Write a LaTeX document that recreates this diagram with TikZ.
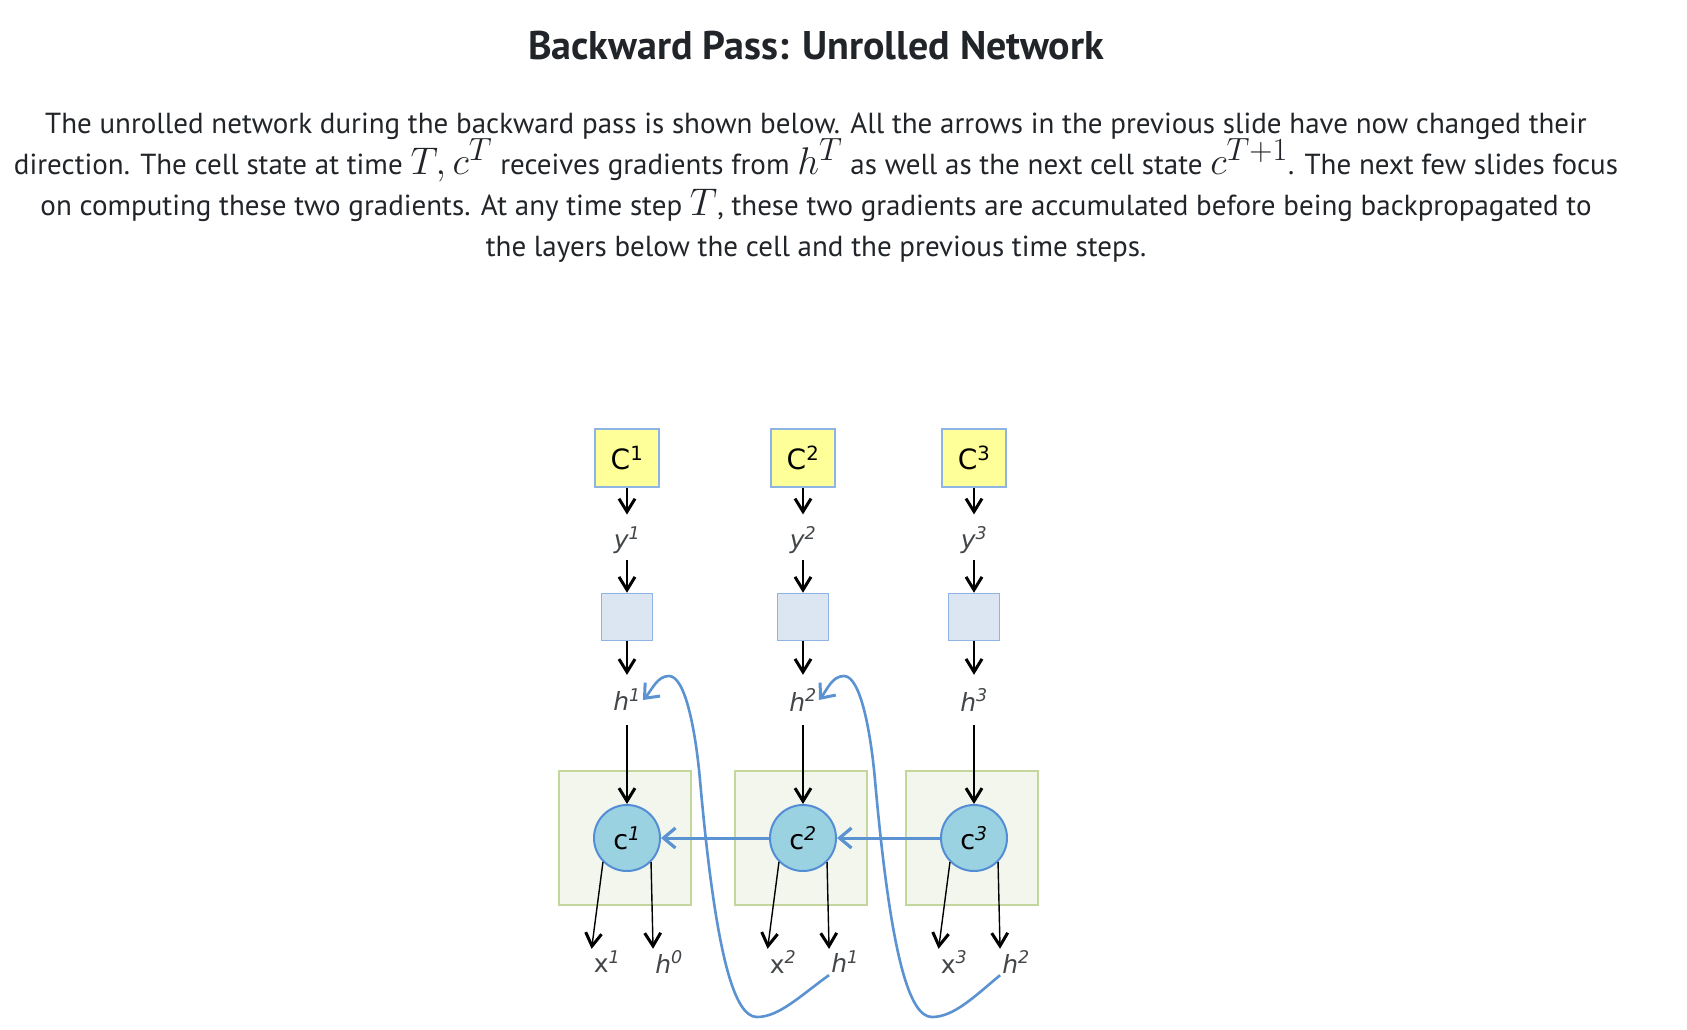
\documentclass[tikz,border=0pt]{standalone}
\usepackage{graphicx}
\usepackage{fontspec}
\setmainfont{PT Sans}
\newfontfamily\lblfont{DejaVu Sans}
\usetikzlibrary{positioning,calc,arrows.meta}
\definecolor{outfill}{RGB}{255,255,153}
\definecolor{boxedge}{RGB}{141,180,226}
\definecolor{layfill}{RGB}{220,230,242}
\definecolor{cellfill}{RGB}{243,246,236}
\definecolor{celledge}{RGB}{195,214,155}
\definecolor{statefill}{RGB}{155,210,226}
\definecolor{stateedge}{RGB}{83,141,213}
\definecolor{gradblue}{RGB}{91,146,210}
\definecolor{txt}{RGB}{33,37,41}
\newcommand{\mth}[1]{\scalebox{1.55}{\fontsize{24.88}{24.88}\selectfont$#1$}}
\newcommand{\introfont}{\fontsize{29}{41}\selectfont\lineskiplimit=-100pt\relax}
\tikzset{outbox/.style={draw=boxedge, fill=outfill, line width=1.5pt, minimum width=64pt, minimum height=58pt, inner sep=0pt, font=\lblfont\fontsize{28}{28}\selectfont}}
\tikzset{laybox/.style={draw=boxedge, fill=layfill, line width=1.5pt, minimum width=51pt, minimum height=47pt, inner sep=0pt}}
\tikzset{cellbox/.style={draw=celledge, fill=cellfill, line width=1.5pt, minimum width=132pt, minimum height=134pt, inner sep=0pt}}
\tikzset{state/.style={circle, draw=stateedge, fill=statefill, line width=2pt, minimum size=66pt, inner sep=0pt, font=\lblfont\fontsize{27}{27}\selectfont}}
\tikzset{lbl/.style={inner sep=2pt, text=txt!85, font=\lblfont\fontsize{25}{25}\selectfont}}
\tikzset{arr/.style={draw, line width=1.4pt, -{Straight Barb[length=13pt, width=16pt, line width=3pt]}}}
\tikzset{garr/.style={draw=gradblue, line width=3pt, -{Straight Barb[length=12pt, width=20pt, line width=3.2pt]}}}
\tikzset{gcurve/.style={draw=gradblue, line width=2.6pt, -{Straight Barb[length=12pt, width=20pt, line width=3pt]}}}

\begin{document}
\begin{tikzpicture}[x=1pt, y=1pt]
  \useasboundingbox[fill=white] (0,0) rectangle (1687,-1030);
  % heading and text
  \node[text=txt, font=\bfseries\fontsize{40}{40}\selectfont] (title) at (816,-46) {Backward Pass: Unrolled Network};
  \node[text=txt, align=center, font=\introfont] (intro) at (816,-188)
    {The unrolled network during the backward pass is shown below. All the arrows in the previous slide have now changed their\\
     direction. The cell state at time \mth{T, c^T} receives gradients from \mth{h^T} as well as the next cell state \mth{c^{T+1}}. The next few slides focus\\
     on computing these two gradients. At any time step \mth{T}, these two gradients are accumulated before being backpropagated to\\
     the layers below the cell and the previous time steps.};

  % column 1
  \node[outbox] (C1) at (627,-458) {C\textsuperscript{1}};
  \node[laybox, below=105pt of C1] (L1) {};
  \node[lbl] (y1) at ($(C1.south)!.5!(L1.north)$) {\textit{y\textsuperscript{1}}};
  \node[lbl] (ht1) at (627,-700) {\textit{h\textsuperscript{1}}};
  \node[cellbox] (B1) at (625,-838) {};
  \node[state] (c1) at (627,-838) {c\textsuperscript{\textit{1}}};
  \node[lbl] (x1) at (607,-962) {x\textsuperscript{\textit{1}}};
  \node[lbl] (hb0) at (669,-962) {\textit{h\textsuperscript{0}}};

  % column 2
  \node[outbox] (C2) at (803,-458) {C\textsuperscript{2}};
  \node[laybox, below=105pt of C2] (L2) {};
  \node[lbl] (y2) at ($(C2.south)!.5!(L2.north)$) {\textit{y\textsuperscript{2}}};
  \node[lbl] (ht2) at (803,-700) {\textit{h\textsuperscript{2}}};
  \node[cellbox] (B2) at (801,-838) {};
  \node[state] (c2) at (803,-838) {c\textsuperscript{\textit{2}}};
  \node[lbl] (x2) at (783,-962) {x\textsuperscript{\textit{2}}};
  \node[lbl] (hb1) at (845,-962) {\textit{h\textsuperscript{1}}};

  % column 3
  \node[outbox] (C3) at (974,-458) {C\textsuperscript{3}};
  \node[laybox, below=105pt of C3] (L3) {};
  \node[lbl] (y3) at ($(C3.south)!.5!(L3.north)$) {\textit{y\textsuperscript{3}}};
  \node[lbl] (ht3) at (974,-700) {\textit{h\textsuperscript{3}}};
  \node[cellbox] (B3) at (972,-838) {};
  \node[state] (c3) at (974,-838) {c\textsuperscript{\textit{3}}};
  \node[lbl] (x3) at (954,-962) {x\textsuperscript{\textit{3}}};
  \node[lbl] (hb2) at (1016,-962) {\textit{h\textsuperscript{2}}};

  % black arrows
  \draw[arr, shorten >=10pt] (C1) -- (y1);
  \draw[arr, shorten <=4pt] (y1) -- (L1);
  \draw[arr, shorten >=12pt] (L1) -- (ht1);
  \draw[arr, shorten <=12pt] (ht1) -- (c1);
  \draw[arr] (c1.225) -- (x1.north west);
  \draw[arr] (c1.-45) -- (hb0.north west);
  \draw[arr, shorten >=10pt] (C2) -- (y2);
  \draw[arr, shorten <=4pt] (y2) -- (L2);
  \draw[arr, shorten >=12pt] (L2) -- (ht2);
  \draw[arr, shorten <=12pt] (ht2) -- (c2);
  \draw[arr] (c2.225) -- (x2.north west);
  \draw[arr] (c2.-45) -- (hb1.north west);
  \draw[arr, shorten >=10pt] (C3) -- (y3);
  \draw[arr, shorten <=4pt] (y3) -- (L3);
  \draw[arr, shorten >=12pt] (L3) -- (ht3);
  \draw[arr, shorten <=12pt] (ht3) -- (c3);
  \draw[arr] (c3.225) -- (x3.north west);
  \draw[arr] (c3.-45) -- (hb2.north west);

  % gradients between cell states
  \draw[garr] (c3) -- (c2);
  \draw[garr] (c2) -- (c1);
  \draw[gcurve] (hb1.south west) .. controls (800,-996) and (779,-1017) .. (757,-1017)
    .. controls (735,-1017) and (716,-960) .. (700,-780)
    .. controls (696,-735) and (686,-676) .. (669,-676)
    .. controls (657,-676) and (652,-690) .. (ht1.east);
  \draw[gcurve] (hb2.south west) .. controls (975,-996) and (954,-1017) .. (932,-1017)
    .. controls (910,-1017) and (891,-960) .. (875,-780)
    .. controls (871,-735) and (861,-676) .. (844,-676)
    .. controls (832,-676) and (827,-690) .. (ht2.east);
\end{tikzpicture}
\end{document}
